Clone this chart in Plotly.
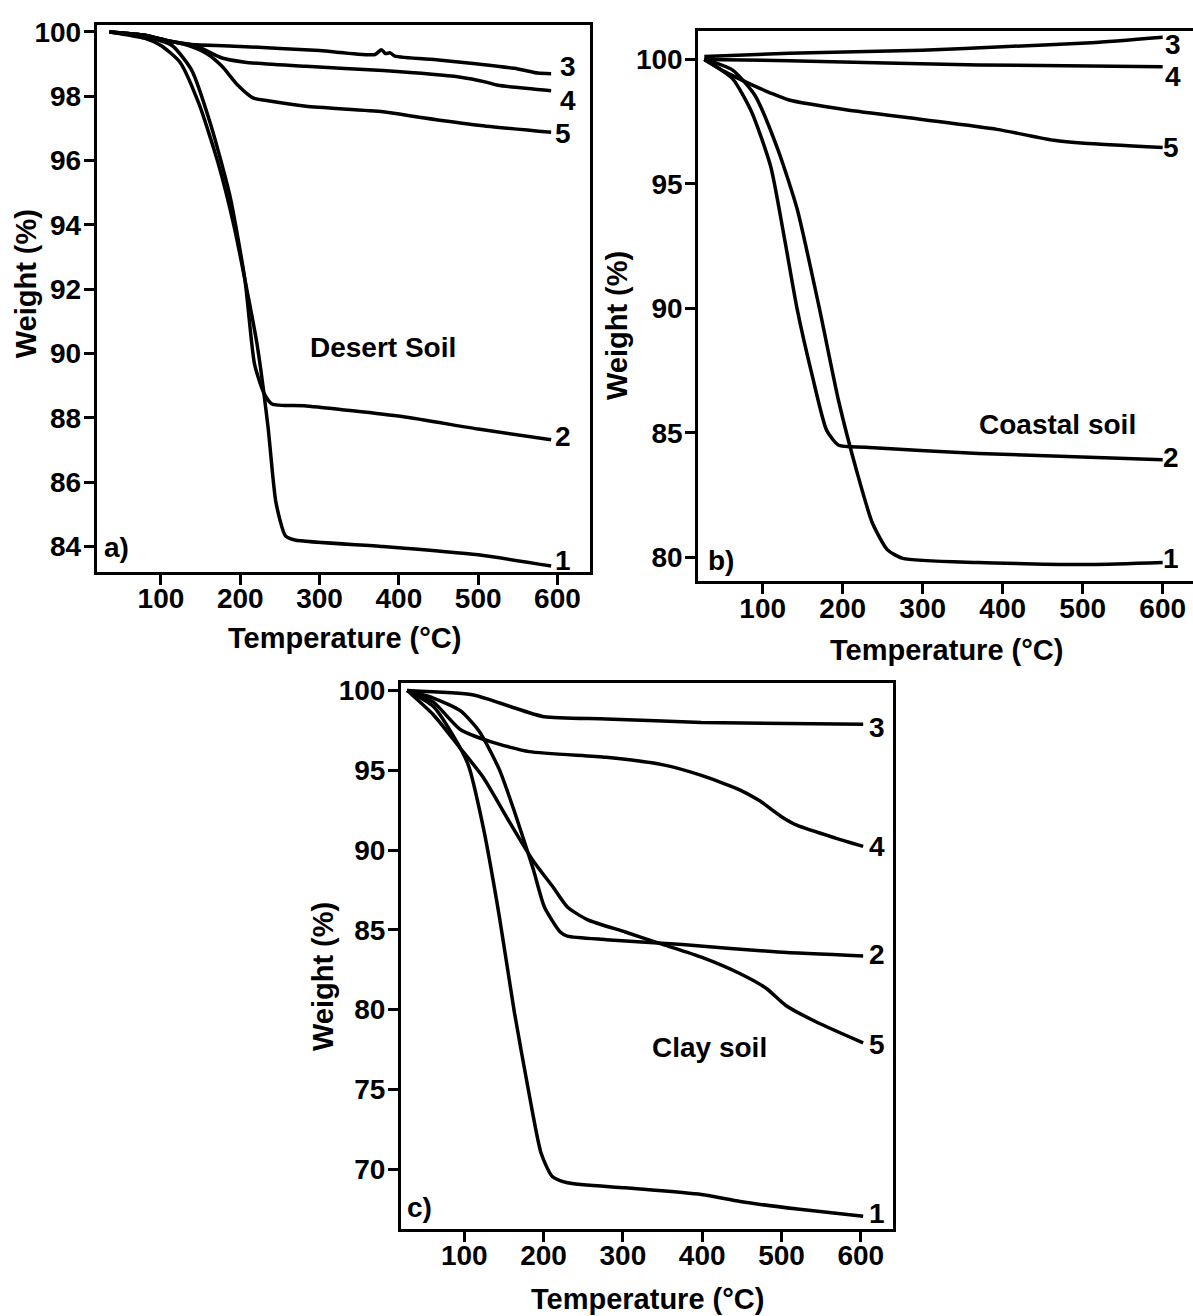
import plotly.graph_objects as go

W, H = 1193, 1316

# ---------------- data ----------------
# Panel a) Desert soil
a1_x = [35, 80, 100, 124, 148, 172, 192, 206, 221, 235, 245, 257, 269, 380, 500, 592]
a1_y = [100, 99.8, 99.58, 99.06, 97.76, 95.93, 93.98, 92.28, 90.32, 87.72, 85.37, 84.33, 84.2, 84.0, 83.74, 83.39]
a2_x = [35, 80, 114, 139, 163, 187, 206, 218, 230, 240, 283, 404, 500, 592]
a2_y = [100, 99.85, 99.58, 98.8, 97.1, 94.9, 92.28, 89.67, 88.76, 88.43, 88.37, 88.04, 87.65, 87.32]
a3_x = [35, 80, 110, 135, 200, 300, 370, 378, 383, 389, 395, 450, 500, 550, 575, 592]
a3_y = [100, 99.9, 99.72, 99.62, 99.55, 99.42, 99.3, 99.45, 99.33, 99.35, 99.25, 99.13, 99.0, 98.85, 98.72, 98.7]
a4_x = [35, 80, 110, 143, 177, 206, 283, 380, 476, 510, 525, 592]
a4_y = [100, 99.9, 99.72, 99.58, 99.19, 99.06, 98.93, 98.8, 98.6, 98.44, 98.34, 98.17]
a5_x = [35, 80, 110, 134, 158, 177, 197, 216, 235, 283, 380, 428, 500, 592]
a5_y = [100, 99.9, 99.72, 99.58, 99.32, 98.93, 98.34, 97.95, 97.86, 97.69, 97.52, 97.34, 97.1, 96.88]

# Panel b) Coastal soil
b1_x = [27, 62, 90, 119, 143, 171, 195, 218, 237, 256, 275, 370, 510, 600]
b1_y = [100.0, 99.58, 98.57, 96.38, 94.0, 89.98, 86.27, 83.41, 81.39, 80.3, 79.96, 79.79, 79.71, 79.79]
b2_x = [27, 62, 86, 110, 128, 143, 162, 180, 195, 228, 370, 600]
b2_y = [100.0, 99.24, 97.9, 95.7, 92.67, 89.98, 87.29, 85.1, 84.5, 84.42, 84.17, 83.92]
b3_x = [27, 133, 299, 393, 511, 600]
b3_y = [100.12, 100.25, 100.37, 100.5, 100.67, 100.89]
b4_x = [27, 133, 370, 600]
b4_y = [100.0, 99.95, 99.78, 99.71]
b5_x = [27, 53, 86, 110, 133, 204, 299, 393, 464, 502, 600]
b5_y = [100.0, 99.5, 98.99, 98.65, 98.37, 97.98, 97.59, 97.19, 96.75, 96.63, 96.46]

# Panel c) Clay soil
c1_x = [28, 61, 86, 105, 124, 144, 163, 182, 197, 211, 230, 303, 399, 448, 520, 603]
c1_y = [100, 99.0, 97.17, 95.34, 91.41, 85.9, 79.88, 74.64, 70.97, 69.53, 69.14, 68.82, 68.4, 67.96, 67.49, 67.04]
c2_x = [28, 61, 95, 119, 144, 163, 187, 201, 221, 230, 279, 375, 496, 603]
c2_y = [100, 99.53, 98.74, 97.43, 95.07, 92.45, 88.79, 86.43, 84.86, 84.6, 84.38, 84.07, 83.6, 83.36]
c3_x = [28, 110, 134, 158, 201, 279, 399, 603]
c3_y = [100, 99.74, 99.4, 99.0, 98.35, 98.22, 98.0, 97.88]
c4_x = [28, 61, 95, 134, 182, 279, 351, 399, 448, 472, 501, 520, 568, 603]
c4_y = [100, 99.27, 97.56, 96.78, 96.17, 95.81, 95.34, 94.68, 93.76, 93.1, 92.06, 91.54, 90.75, 90.23]
c5_x = [28, 61, 95, 124, 158, 187, 211, 230, 255, 303, 351, 399, 448, 481, 505, 544, 603]
c5_y = [100, 98.48, 96.38, 94.55, 91.67, 89.31, 87.74, 86.43, 85.64, 84.86, 84.07, 83.28, 82.24, 81.32, 80.27, 79.22, 77.91]

x_ticks = [100, 200, 300, 400, 500, 600]
a_yticks = [84, 86, 88, 90, 92, 94, 96, 98, 100]
b_yticks = [80, 85, 90, 95, 100]
c_yticks = [70, 75, 80, 85, 90, 95, 100]
curve_names = ["1", "2", "3", "4", "5"]

# ---------------- figure ----------------
FONT = "Liberation Sans, Arial, Helvetica, sans-serif"

def px(x):
    return x / W

def py(y):
    return 1 - y / H

fig = go.Figure()

panels = [
    ("x", "y", [(a1_x, a1_y), (a2_x, a2_y), (a3_x, a3_y), (a4_x, a4_y), (a5_x, a5_y)]),
    ("x2", "y2", [(b1_x, b1_y), (b2_x, b2_y), (b3_x, b3_y), (b4_x, b4_y), (b5_x, b5_y)]),
    ("x3", "y3", [(c1_x, c1_y), (c2_x, c2_y), (c3_x, c3_y), (c4_x, c4_y), (c5_x, c5_y)]),
]
for xa, ya, curves in panels:
    for name, (xs, ys) in zip(curve_names, curves):
        fig.add_trace(go.Scatter(x=xs, y=ys, mode="lines", name=name, xaxis=xa, yaxis=ya,
                                 line=dict(color="black", width=3.5, shape="spline", smoothing=0.6),
                                 showlegend=False, hoverinfo="skip"))

tickfont = dict(family=FONT, size=28, color="black", weight="bold")

def axis(domain, rng, tickvals, standoff, mirror=True, anchor=None):
    d = dict(domain=domain, range=rng, tickvals=tickvals, showline=True, linewidth=3,
             linecolor="black", mirror=mirror, ticks="outside", ticklen=10, tickwidth=3,
             tickcolor="black", showgrid=False, zeroline=False, tickfont=tickfont,
             ticklabelstandoff=standoff)
    if anchor:
        d["anchor"] = anchor
    return d

XS, YS = -10, -3
fig.update_layout(
    width=W, height=H, margin=dict(l=0, r=0, t=0, b=0),
    paper_bgcolor="white", plot_bgcolor="white",
    xaxis=axis([px(96.7), px(590)], [19, 641], x_ticks, XS, anchor="y"),
    yaxis=axis([py(567), py(17.3)], [83.22, 100.21], a_yticks, YS, anchor="x"),
    xaxis2=axis([px(698.3), 1.0], [19.5, 637.9], x_ticks, XS, anchor="y2"),
    yaxis2=axis([py(577), py(22.7)], [79.03, 101.16], b_yticks, YS, mirror=False, anchor="x2"),
    xaxis3=axis([px(401), px(893.3)], [20.2, 641], x_ticks, XS, anchor="y3"),
    yaxis3=axis([py(1228.3), py(679)], [66.25, 100.48], c_yticks, YS, anchor="x3"),
)

ann = []
title_font = dict(family=FONT, size=29, color="black", weight="bold")
lab_font = dict(family=FONT, size=28, color="black", weight="bold")

# axis titles (paper coords)
for (cx, cy) in [(344, 634), (946, 646), (647, 1299)]:
    ann.append(dict(text="Temperature (°C)", x=px(cx), y=py(cy), xref="paper", yref="paper",
                    showarrow=False, font=title_font, xanchor="center", yanchor="middle"))
for (cx, cy) in [(26, 278), (617, 320), (323, 975)]:
    ann.append(dict(text="Weight (%)", x=px(cx), y=py(cy), xref="paper", yref="paper",
                    showarrow=False, font=title_font, textangle=-90, xanchor="center", yanchor="middle"))

# curve numbers and panel texts (data coords)
a_lab = [(607.5, 83.55), (607, 87.42), (613, 98.92), (613, 97.87), (607, 96.85)]
b_lab = [(611, 79.95), (611, 84.0), (613, 100.62), (613, 99.33), (611, 96.46)]
c_lab = [(621, 67.2), (621, 83.42), (621, 97.69), (621, 90.23), (621, 77.78)]
for xr, yr, labs in [("x", "y", a_lab), ("x2", "y2", b_lab), ("x3", "y3", c_lab)]:
    for name, (lx, ly) in zip(curve_names, labs):
        ann.append(dict(text=name, x=lx, y=ly, xref=xr, yref=yr, showarrow=False,
                        font=lab_font, xanchor="center", yanchor="middle"))

ann.append(dict(text="Desert Soil", x=380, y=90.2, xref="x", yref="y", showarrow=False, font=lab_font))
ann.append(dict(text="a)", x=44, y=83.96, xref="x", yref="y", showarrow=False, font=lab_font))
ann.append(dict(text="Coastal soil", x=469, y=85.35, xref="x2", yref="y2", showarrow=False, font=lab_font))
ann.append(dict(text="b)", x=48, y=79.88, xref="x2", yref="y2", showarrow=False, font=lab_font))
ann.append(dict(text="Clay soil", x=409, y=77.65, xref="x3", yref="y3", showarrow=False, font=lab_font))
ann.append(dict(text="c)", x=44, y=67.6, xref="x3", yref="y3", showarrow=False, font=lab_font))

fig.update_layout(annotations=ann)
fig.write_html("out.html")
